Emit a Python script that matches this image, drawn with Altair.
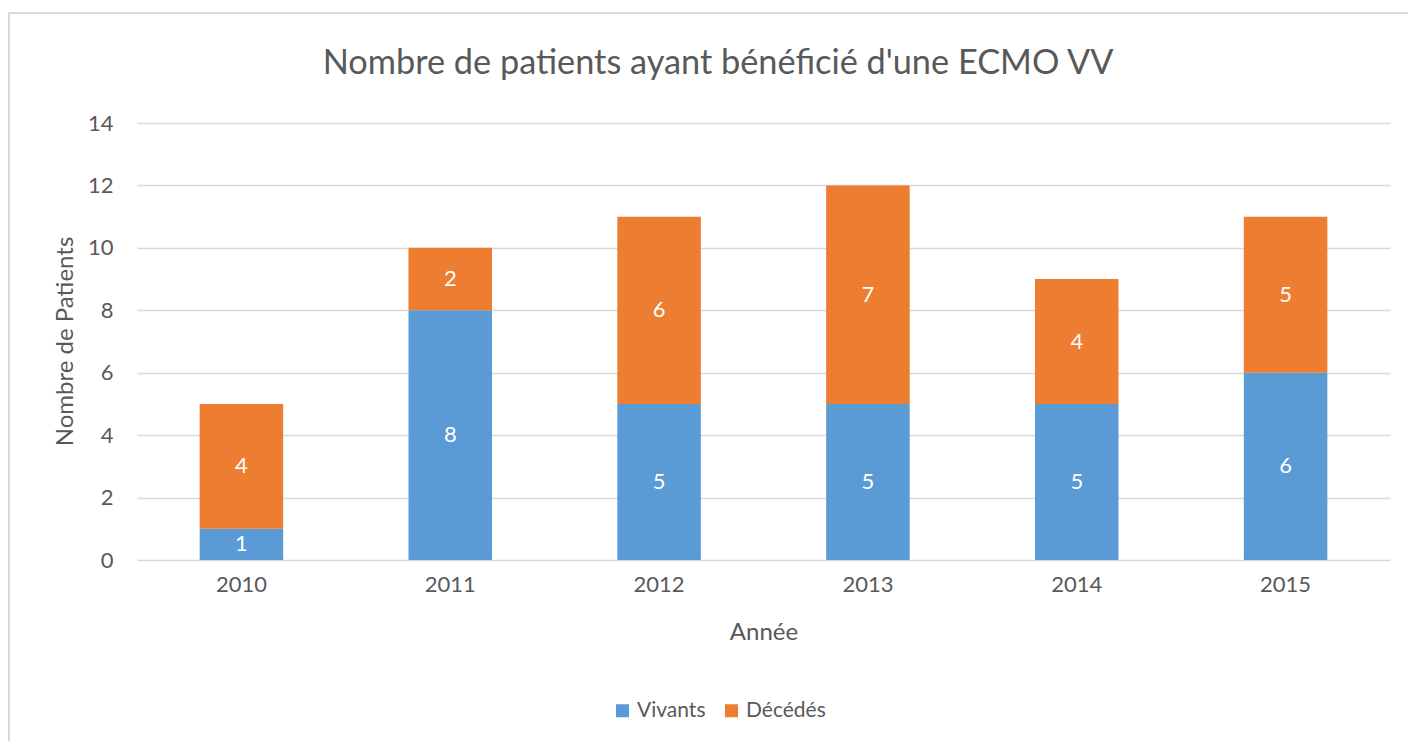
import altair as alt
import pandas as pd

years = ["2010", "2011", "2012", "2013", "2014", "2015"]
vivants = [1, 8, 5, 5, 5, 6]
decedes = [4, 2, 6, 7, 4, 5]
series = ["Vivants", "Décédés"]
colors = ["#5B9BD5", "#ED7D31"]
y_ticks = [0, 2, 4, 6, 8, 10, 12, 14]
title_text = "Nombre de patients ayant bénéficié d'une ECMO VV"

rows = []
for i, y in enumerate(years):
    rows.append({"year": y, "serie": series[0], "ord": 0, "count": vivants[i]})
    rows.append({"year": y, "serie": series[1], "ord": 1, "count": decedes[i]})
df = pd.DataFrame(rows)

FONT = "Lato"
TXT = "#595959"
GRID = "#D9D9D9"

base = alt.Chart(df).transform_stack(
    stack="count", groupby=["year"], as_=["y0", "y1"], sort=[alt.SortField("ord")]
).transform_calculate(mid="(datum.y0 + datum.y1) / 2")

xenc = alt.X(
    "year:N",
    sort=years,
    scale=alt.Scale(paddingInner=0.6, paddingOuter=0.3),
    axis=alt.Axis(
        title="Année",
        domain=False,
        ticks=False,
        labelAngle=0,
        labelPadding=24,
        labelBaseline="middle",
        labelFontSize=22,
        labelColor=TXT,
        labelFont=FONT,
        titleFontSize=24,
        titleFont=FONT,
        titleColor=TXT,
        titleFontWeight="normal",
        titleY=72,
        titleBaseline="middle",
    ),
)

bars = base.mark_bar().encode(
    x=xenc,
    y=alt.Y(
        "y0:Q",
        scale=alt.Scale(domain=[0, 14], nice=False),
        axis=alt.Axis(
            title="Nombre de Patients",
            values=y_ticks,
            domain=False,
            ticks=False,
            grid=True,
            gridColor=GRID,
            gridWidth=1.5,
            labelPadding=24,
            labelFontSize=22,
            labelColor=TXT,
            labelFont=FONT,
            titleFontSize=24,
            titleFont=FONT,
            titleColor=TXT,
            titleFontWeight="normal",
            titleAngle=270,
            titleX=-72,
            titleY=218,
            titleAlign="center",
            titleBaseline="middle",
        ),
    ),
    y2="y1:Q",
    color=alt.Color(
        "serie:N",
        scale=alt.Scale(domain=series, range=colors),
        legend=alt.Legend(
            title=None,
            orient="none",
            legendX=475,
            legendY=577,
            direction="horizontal",
            symbolType="square",
            symbolSize=169,
            symbolStrokeWidth=0,
            labelFontSize=21,
            labelFont=FONT,
            labelColor=TXT,
            labelOffset=4,
            columnPadding=15,
        ),
    ),
    order=alt.Order("ord:Q"),
)

labels = base.mark_text(
    color="white", font=FONT, fontSize=22, baseline="middle", align="center"
).encode(
    x=alt.X("year:N", sort=years),
    y=alt.Y("mid:Q"),
    text=alt.Text("count:Q"),
)

one = pd.DataFrame({"t": [title_text]})

border = alt.Chart(one).mark_rect(
    fill=None, stroke=GRID, strokeWidth=2, clip=False
).encode(
    x=alt.value(-128), x2=alt.value(1400), y=alt.value(-110), y2=alt.value(700)
)

title = alt.Chart(one).mark_text(
    font=FONT, fontSize=34.3, color=TXT, align="center", baseline="middle"
).encode(
    x=alt.value(581), y=alt.value(-59), text="t:N"
)

chart = (
    alt.layer(border, bars, labels, title)
    .properties(
        width=1253,
        height=437,
        padding={"left": 129, "top": 115, "right": 18, "bottom": 181},
        autosize=alt.AutoSizeParams(type="none"),
        background="white",
    )
    .configure_view(strokeWidth=0, stroke=None)
)

chart.save("out.html", embed_options={"renderer": "svg", "actions": False})
